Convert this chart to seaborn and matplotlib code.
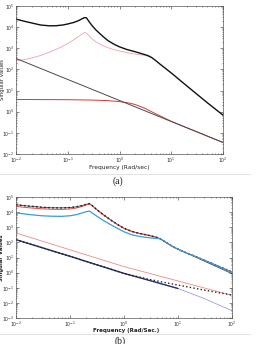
import numpy as np
import matplotlib
matplotlib.use("Agg")
import matplotlib.pyplot as plt
from matplotlib.lines import Line2D
import seaborn as sns

# ---- chart (a) data: frequency (rad/sec) and singular values ----
freq_a = [0.01, 0.015, 0.02, 0.03, 0.045, 0.06, 0.08, 0.1, 0.13, 0.16, 0.19, 0.21,
          0.23, 0.26, 0.3, 0.35, 0.41, 0.5, 0.6, 0.8, 1.0, 1.4, 1.86, 2.4, 2.9,
          3.5, 4.2, 5.0, 6.0, 8.0, 10.0, 20.0, 50.0, 100.0]
black_a = [24000, 18600, 15800, 12600, 11500, 11700, 12600, 14100, 16600, 20000,
           25100, 28200, 27500, 17800, 11200, 7400, 5130, 3310, 2290, 1510, 1170,
           870, 724, 603, 525, 457, 363, 263, 182, 105, 68, 16.6, 2.63, 0.69]

freq_pink = [0.01, 0.015, 0.02, 0.03, 0.045, 0.06, 0.08, 0.1, 0.13, 0.16, 0.19,
             0.215, 0.24, 0.28, 0.33, 0.4, 0.5, 0.7, 1.0, 1.5, 2.2, 3.0, 4.2]
pink_a = [257, 295, 347, 457, 661, 891, 1260, 1660, 2510, 3550, 4790, 5620, 4790,
          3160, 2240, 1660, 1260, 933, 741, 603, 513, 468, 370]

freq_gray = [0.01, 100.0]
gray_a = [330, 0.035]

freq_red = [0.01, 0.1, 0.3, 0.6, 1.0, 1.5, 2.0, 3.0, 5.0, 10.0, 100.0]
red_a = [3.8, 3.7, 3.55, 3.35, 3.0, 2.6, 2.2, 1.5, 0.8, 0.35, 0.035]

# ---- chart (b) data ----
freq_b = [0.01, 0.015, 0.02, 0.03, 0.045, 0.07, 0.1, 0.13, 0.17, 0.2, 0.23, 0.26,
          0.3, 0.35, 0.4, 0.5, 0.6, 0.8, 1.0, 1.4, 2.0, 3.0, 4.0, 4.6, 6.0, 8.0,
          10.0, 15.0, 20.0, 30.0, 50.0, 100.0]
dotted_b = [30900, 26300, 24000, 20900, 19500, 19100, 20000, 22400, 27500, 33100,
            36300, 26300, 16600, 10700, 7410, 4170, 2630, 1350, 851, 525, 380, 282,
            214, 178, 100, 52.5, 35.5, 18.6, 12.6, 6.76, 3.16, 1.1]
red_b = [24000, 20400, 18600, 16600, 15500, 15100, 16200, 18600, 24000, 30200,
         33900, 26300, 16600, 10700, 7410, 4170, 2630, 1350, 851, 525, 380, 282,
         214, 178, 100, 52.5, 35.5, 18.6, 12.6, 6.76, 3.16, 1.1]
black_b = [30900, 26300, 24000, 20900, 19500, 19100, 20000, 22400, 27500, 33100,
           36300, 26300, 16600, 10700, 7410, 4170, 2630, 1350, 851, 525, 380, 282,
           214, 178, 100, 52.5, 35.5, 18.6, 11.7, 6.03, 2.63, 0.85]
blue_b = [9120, 7410, 6610, 5750, 5370, 5250, 5750, 6760, 8910, 10700, 11700, 8510,
          6030, 4170, 3020, 1910, 1320, 759, 501, 316, 240, 200, 182, 178, 100,
          52.5, 35.5, 18.6, 12.6, 6.76, 3.16, 1.0]

freq_salmon = [0.01, 1.0, 100.0]
salmon_b = [417, 2.5, 0.0316]

freq_low = [0.01, 0.1, 1.0, 3.0, 10.0, 30.0, 100.0]
dotted_low = [151, 12, 0.89, 0.35, 0.15, 0.071, 0.033]
lilac_low = [151, 12, 0.89, 0.3, 0.089, 0.02, 0.003]

freq_navy = [0.01, 0.1, 1.0, 3.0, 10.0]
navy_b = [151, 12, 0.89, 0.3, 0.089]

sns.set_style("ticks")
plt.rcParams["font.family"] = ["DejaVu Sans"]

W, H = 256, 344
fig = plt.figure(figsize=(W / 100, H / 100), dpi=100)

def px_axes(left, top, right, bottom):
    return fig.add_axes([left / W, 1 - bottom / H, (right - left) / W, (bottom - top) / H])

ax1 = px_axes(16, 6, 223, 154)
ax2 = px_axes(16, 197, 232, 318)

# chart (a)
sns.lineplot(x=freq_pink, y=pink_a, ax=ax1, color="#f2a0a8", lw=0.6, sort=False)
sns.lineplot(x=freq_red, y=red_a, ax=ax1, color="#d03a3a", lw=0.7, sort=False)
sns.lineplot(x=freq_gray, y=gray_a, ax=ax1, color="#4a4a4a", lw=0.7, sort=False)
sns.lineplot(x=freq_a, y=black_a, ax=ax1, color="#111111", lw=1.0, sort=False)
ax1.set_ylim(1e-2, 1e5)

# chart (b)
sns.lineplot(x=freq_b, y=black_b, ax=ax2, color="#444444", lw=0.6, sort=False)
sns.lineplot(x=freq_b, y=red_b, ax=ax2, color="#e04848", lw=0.7, sort=False)
sns.lineplot(x=freq_b, y=dotted_b, ax=ax2, color="#222222", lw=1.1, linestyle=":", sort=False)
sns.lineplot(x=freq_b, y=blue_b, ax=ax2, color="#3a9ad8", lw=0.9, sort=False)
sns.lineplot(x=freq_salmon, y=salmon_b, ax=ax2, color="#f08a8a", lw=0.6, sort=False)
sns.lineplot(x=freq_low, y=lilac_low, ax=ax2, color="#8a8ae8", lw=0.5, sort=False)
sns.lineplot(x=freq_navy, y=navy_b, ax=ax2, color="#28306e", lw=1.0, sort=False)
sns.lineplot(x=freq_low, y=dotted_low, ax=ax2, color="#222222", lw=1.0, linestyle=":", sort=False)
ax2.set_ylim(1e-3, 1e5)

for ax in (ax1, ax2):
    ax.set_xscale("log")
    ax.set_yscale("log")
    ax.set_xlim(1e-2, 1e2)
    ax.set_xticks([1e-2, 1e-1, 1e0, 1e1, 1e2])
    ax.tick_params(which="both", direction="in", top=True, right=True,
                   labelsize=3.3, pad=1.0, width=0.4, colors="#333333")
    ax.tick_params(which="major", length=2)
    ax.tick_params(which="minor", length=1)
    for s in ax.spines.values():
        s.set_linewidth(0.5)
        s.set_color("#555555")
        s.set_visible(True)
    ax.set_ylabel("Singular Values", fontsize=3.8, color="#222222")

ax1.set_xlabel("Frequency (Rad/sec)", fontsize=4.2, color="#222222")
ax1.xaxis.set_label_coords(0.5, -0.072)
ax1.yaxis.set_label_coords(-0.055, 0.5)

ax2.set_xlabel("Frequency (Rad/Sec.)", fontsize=4.0, fontweight="bold", color="#222222")
ax2.xaxis.set_label_coords(0.51, -0.085)
ax2.yaxis.set_label_coords(-0.055, 0.5)
ax2.yaxis.label.set_fontweight("bold")

# captions and separators
fig.text(118 / W, 1 - 181 / H, "(a)", fontsize=7, family="Liberation Serif",
         ha="center", va="center", color="#222222")
fig.text(120 / W, 1 - 336 / H, "(b)", fontsize=7, family="Liberation Serif",
         ha="center", va="top", color="#222222")
fig.add_artist(Line2D([0, 250 / W], [1 - 174 / H, 1 - 174 / H], color="#dddddd", lw=0.6))
fig.add_artist(Line2D([0, 250 / W], [1 - 334 / H, 1 - 334 / H], color="#dddddd", lw=0.6))

fig.savefig("out.png", dpi=100)
